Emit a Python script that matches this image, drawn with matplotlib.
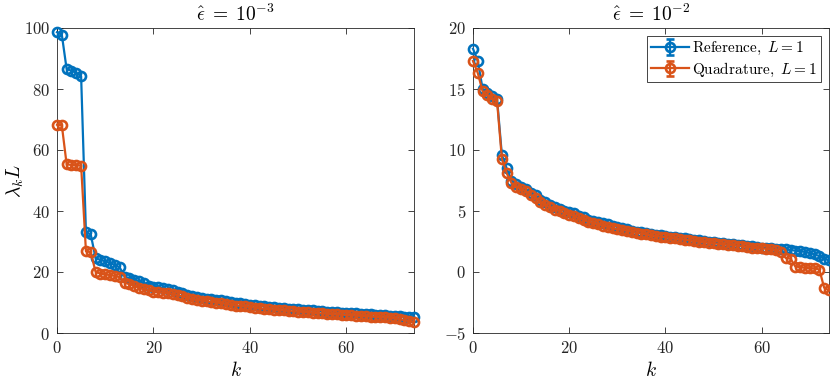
import numpy as np
import matplotlib
matplotlib.use("Agg")
import matplotlib.pyplot as plt
from matplotlib.ticker import FuncFormatter

# ---------------- DATA ----------------
k = np.arange(75)

# eps = 1e-3
ref_e3 = [98.6, 97.8, 86.5, 86.0, 85.3, 84.2, 33.0, 32.3, 24.5, 24.0,
          23.5, 23.0, 22.3, 21.5, 18.5, 18.0, 17.5, 17.0, 16.5, 15.5,
          15.2, 15.0, 14.7, 14.3, 14.0, 13.5, 13.0, 12.5, 12.0, 11.8,
          11.5, 11.3, 11.1, 10.9, 10.7, 10.4, 10.1, 9.9, 9.7, 9.5,
          9.3, 9.1, 8.9, 8.7, 8.5, 8.4, 8.3, 8.2, 8.0, 7.9,
          7.8, 7.7, 7.5, 7.4, 7.3, 7.1, 7.0, 6.9, 6.8, 6.7,
          6.6, 6.5, 6.4, 6.3, 6.2, 6.1, 6.0, 5.9, 5.8, 5.7,
          5.6, 5.5, 5.4, 5.3, 5.1]
quad_e3 = [68.3, 68.1, 55.3, 55.1, 55.0, 54.9, 26.8, 26.5, 20.0, 19.5,
           19.2, 19.0, 18.7, 18.3, 16.5, 16.0, 15.5, 14.8, 14.3, 14.0,
           13.6, 13.4, 13.2, 13.0, 12.8, 12.4, 12.0, 11.5, 11.0, 10.8,
           10.6, 10.4, 10.2, 10.0, 9.8, 9.5, 9.2, 9.0, 8.9, 8.7,
           8.5, 8.3, 8.1, 7.9, 7.8, 7.6, 7.5, 7.4, 7.2, 7.1,
           7.0, 6.9, 6.8, 6.6, 6.5, 6.4, 6.3, 6.2, 6.1, 6.0,
           5.9, 5.8, 5.7, 5.6, 5.5, 5.4, 5.3, 5.2, 5.1, 5.0,
           4.8, 4.6, 4.2, 3.8, 3.6]

# eps = 1e-2
ref_e2 = [18.3, 17.3, 15.0, 14.7, 14.4, 14.2, 9.6, 8.5, 7.5, 7.2,
          7.0, 6.8, 6.5, 6.3, 5.9, 5.7, 5.5, 5.3, 5.2, 5.0,
          4.9, 4.8, 4.6, 4.5, 4.3, 4.2, 4.1, 4.0, 3.9, 3.8,
          3.7, 3.6, 3.5, 3.4, 3.3, 3.25, 3.2, 3.1, 3.05, 3.0,
          2.95, 2.9, 2.85, 2.8, 2.75, 2.7, 2.65, 2.6, 2.55, 2.5,
          2.45, 2.4, 2.35, 2.3, 2.28, 2.25, 2.2, 2.15, 2.1, 2.05,
          2.0, 1.97, 1.94, 1.9, 1.88, 1.85, 1.8, 1.75, 1.7, 1.65,
          1.55, 1.45, 1.3, 1.1, 0.95]
quad_e2 = [17.3, 16.3, 14.8, 14.5, 14.2, 14.0, 9.3, 8.1, 7.3, 7.0,
           6.8, 6.6, 6.3, 6.1, 5.7, 5.5, 5.3, 5.1, 5.0, 4.8,
           4.7, 4.6, 4.4, 4.3, 4.1, 4.0, 3.9, 3.8, 3.7, 3.6,
           3.5, 3.45, 3.4, 3.3, 3.2, 3.15, 3.1, 3.0, 2.95, 2.9,
           2.85, 2.8, 2.75, 2.7, 2.65, 2.6, 2.55, 2.5, 2.45, 2.4,
           2.35, 2.3, 2.27, 2.24, 2.2, 2.15, 2.1, 2.05, 2.0, 1.97,
           1.93, 1.9, 1.85, 1.8, 1.6, 1.15, 1.1, 0.45, 0.4, 0.35,
           0.3, 0.3, 0.2, -1.3, -1.5]

titles = [r"$\hat{\epsilon}\;=\;10^{-3}$", r"$\hat{\epsilon}\;=\;10^{-2}$"]
labels = [r"$\mathrm{Reference},\ L = 1$", r"$\mathrm{Quadrature},\ L = 1$"]

# ---------------- STYLE ----------------
plt.rcParams["mathtext.fontset"] = "cm"
plt.rcParams["font.family"] = "serif"
plt.rcParams["font.serif"] = ["DejaVu Serif"]
plt.rcParams["axes.unicode_minus"] = False

BLUE = "#0072BD"
ORANGE = "#D95319"
AXC = "#262626"
LW = 1.6
MEW = 1.9
MS = 6.5

fmt = FuncFormatter(lambda v, p: r"$%g$" % v)

fig = plt.figure(figsize=(8.3, 3.84), dpi=100)
ax1 = fig.add_axes([57 / 830, 51 / 384, 357 / 830, 305 / 384])
ax2 = fig.add_axes([473 / 830, 51 / 384, 356 / 830, 305 / 384])


def draw(ax, ref, quad, title, ylim, yticks, legend=False):
    for y, c in [(ref, BLUE), (quad, ORANGE)]:
        ax.plot(k, y, color=c, lw=LW, marker="o", ms=MS, mfc="none",
                mew=MEW, clip_on=False, zorder=3)
    ax.set_xlim(0, 74)
    ax.set_ylim(*ylim)
    ax.set_xticks([0, 20, 40, 60])
    ax.set_yticks(yticks)
    ax.xaxis.set_major_formatter(fmt)
    ax.yaxis.set_major_formatter(fmt)
    ax.tick_params(direction="in", top=True, right=True, length=4,
                   width=0.6, colors=AXC, labelsize=12, pad=5)
    for s in ax.spines.values():
        s.set_color(AXC)
        s.set_linewidth(0.6)
    ax.set_title(title, fontsize=14, color="black", pad=5)
    ax.set_xlabel(r"$k$", fontsize=14, labelpad=3)
    if legend:
        # errorbar proxies so the legend shows the error-bar glyph
        handles = []
        for c, lab in [(BLUE, labels[0]), (ORANGE, labels[1])]:
            h = ax.errorbar([np.nan], [np.nan], yerr=[1.0], color=c, lw=LW,
                            marker="o", ms=MS, mfc="none", mew=MEW,
                            capsize=3, elinewidth=LW, label=lab)
            handles.append(h)
        leg = ax.legend(handles=handles, loc="upper right", fontsize=11,
                        frameon=True, fancybox=False, edgecolor=AXC,
                        framealpha=1, borderpad=0.25, handlelength=2.5,
                        handletextpad=0.2, labelspacing=0.2,
                        borderaxespad=0.55)
        leg.get_frame().set_linewidth(0.6)
        leg.set_zorder(5)


draw(ax1, ref_e3, quad_e3, titles[0], (0, 100), [0, 20, 40, 60, 80, 100])
ax1.set_ylabel(r"$\lambda_k L$", fontsize=14)
ax1.yaxis.set_label_coords(-0.087, 0.5)
draw(ax2, ref_e2, quad_e2, titles[1], (-5, 20), [-5, 0, 5, 10, 15, 20], legend=True)

fig.savefig("out.png", dpi=100)
